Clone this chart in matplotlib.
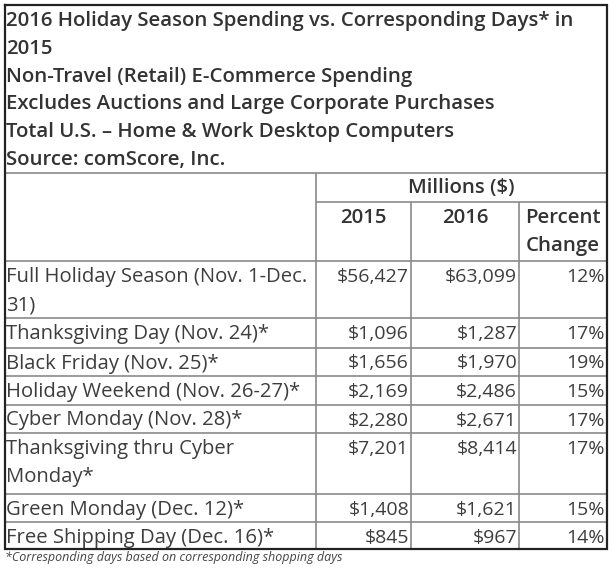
import matplotlib
matplotlib.use('Agg')
import matplotlib.pyplot as plt

# Заголовок таблицы
title_lines = [
    '2016 Holiday Season Spending vs. Corresponding Days* in',
    '2015',
    'Non-Travel (Retail) E-Commerce Spending',
    'Excludes Auctions and Large Corporate Purchases',
    'Total U.S. – Home & Work Desktop Computers',
    'Source: comScore, Inc.',
]

# Строки таблицы
labels = [
    ['Full Holiday Season (Nov. 1-Dec.', '31)'],
    ['Thanksgiving Day (Nov. 24)*'],
    ['Black Friday (Nov. 25)*'],
    ['Holiday Weekend (Nov. 26-27)*'],
    ['Cyber Monday (Nov. 28)*'],
    ['Thanksgiving thru Cyber', 'Monday*'],
    ['Green Monday (Dec. 12)*'],
    ['Free Shipping Day (Dec. 16)*'],
]
spend_2015 = [56427, 1096, 1656, 2169, 2280, 7201, 1408, 845]
spend_2016 = [63099, 1287, 1970, 2486, 2671, 8414, 1621, 967]
pct_change = [12, 17, 19, 15, 17, 17, 15, 14]

col_headers = ['2015', '2016', ['Percent', 'Change']]
group_header = 'Millions ($)'
footnote = '*Corresponding days based on corresponding shopping days'

FONT = 'Open Sans'
FS_T = 14.7   # заголовок
FS = 14.6     # подписи строк
FS_V = 14.0   # числа
TXT = '#3d3d3d'
HDR = '#333333'
GRID = '#8a8a8a'
LH = 28  # высота строки текста

# Границы таблицы (в пикселях)
left, right, top, bottom = 5, 607, 4.5, 549
x_cols = [316, 411, 519]
y_title_end = 173
y_millions = 202
y_header = 261
row_tops = [261, 318, 347.5, 376, 404.5, 433, 494, 522, 549]


def main():
    fig = plt.figure(figsize=(6.12, 5.68), dpi=100)
    ax = fig.add_axes([0, 0, 1, 1])
    ax.set_xlim(0, 612)
    ax.set_ylim(568, 0)
    ax.axis('off')

    # Внутренние линии
    ax.hlines(y_title_end, left, right, color=GRID, lw=1.2)
    ax.hlines(y_millions, x_cols[0], right, color=GRID, lw=1.2)
    ax.hlines(row_tops[:-1], left, right, color=GRID, lw=1.2)
    ax.vlines(x_cols[0], y_title_end, bottom, color=GRID, lw=1.2)
    ax.vlines(x_cols[1:], y_millions, bottom, color=GRID, lw=1.2)
    # Внешняя рамка
    ax.plot([left, right, right, left, left], [top, top, bottom, bottom, top],
            color='#222222', lw=1.6, solid_joinstyle='miter')

    # Заголовок
    for i, line in enumerate(title_lines):
        ax.text(6, 26 + i * 27.8, line, fontsize=FS_T, family=FONT,
                color=HDR, fontweight=600, va='baseline', ha='left')

    # Шапка колонок
    ax.text((x_cols[0] + right) / 2, 193, group_header, fontsize=FS_T, family=FONT,
            color=HDR, fontweight=600, va='baseline', ha='center')
    col_edges = x_cols + [right]
    for j, h in enumerate(col_headers):
        cx = (col_edges[j] + col_edges[j + 1]) / 2
        lines = h if isinstance(h, list) else [h]
        for k, s in enumerate(lines):
            ax.text(cx, 223 + k * LH, s, fontsize=FS_T, family=FONT, color=HDR,
                    fontweight=600, va='baseline', ha='center')

    # Данные
    for i in range(len(labels)):
        yb = row_tops[i] + 21
        for k, s in enumerate(labels[i]):
            ax.text(6, yb + k * LH, s, fontsize=FS, family=FONT, color=TXT,
                    va='baseline', ha='left')
        vals = ['${:,}'.format(spend_2015[i]), '${:,}'.format(spend_2016[i]),
                '{}%'.format(pct_change[i])]
        for j, v in enumerate(vals):
            ax.text(col_edges[j + 1] - 2, yb, v, fontsize=FS_V, family=FONT,
                    color=TXT, va='baseline', ha='right')

    # Сноска
    ax.text(5, 561, footnote, fontsize=9.0, family=FONT, style='italic',
            color='#444444', va='baseline', ha='left')

    fig.savefig('out.png', dpi=100)


if __name__ == '__main__':
    main()
